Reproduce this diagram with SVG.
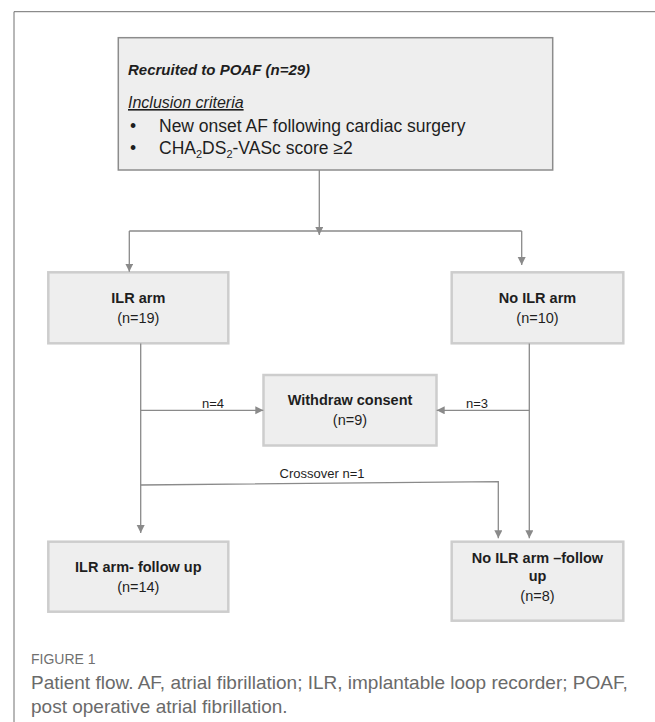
<svg xmlns="http://www.w3.org/2000/svg" width="655" height="722" viewBox="0 0 655 722">
<style>
  .frame { fill: none; stroke: #707070; stroke-width: 1; }
  .topbox { fill: #eeeeee; stroke: #8c8c8c; stroke-width: 1.5; }
  .box { fill: #eeeeee; stroke: #cdcdcd; stroke-width: 2.5; }
  .conn { fill: none; stroke: #8a8a8a; stroke-width: 1.3; }
  text { font-family: "Liberation Sans", Arial, sans-serif; fill: #1e1e1e; }
  .title { font-size: 15px; font-weight: bold; font-style: italic; }
  .incl { font-size: 16px; font-style: italic; text-decoration: underline; }
  .bul { font-size: 17.5px; }
  .lbl { font-size: 14.5px; font-weight: bold; text-anchor: middle; }
  .num { font-size: 14.5px; text-anchor: middle; }
  .edge { font-size: 13px; text-anchor: middle; }
  .figno { font-size: 14px; fill: #707070; }
  .cap { font-size: 19px; fill: #6a6a6a; }
</style>
<defs>
  <marker id="arr" markerUnits="userSpaceOnUse" markerWidth="9" markerHeight="9" refX="8" refY="4" orient="auto">
    <path d="M0,0 L8,4 L0,8 z" fill="#8a8a8a"/>
  </marker>
</defs>

<path class="frame" d="M14,722 V11.7 H655"/>

<g id="recruited">
  <rect class="topbox" x="118.3" y="37.7" width="434.4" height="132.3"/>
  <text class="title" x="128" y="75">Recruited to POAF (n=29)</text>
  <text class="incl" x="128" y="108">Inclusion criteria</text>
  <text class="bul" x="130" y="132">•</text>
  <text class="bul" x="159" y="132">New onset AF following cardiac surgery</text>
  <text class="bul" x="130" y="154">•</text>
  <text class="bul" x="159" y="154">CHA<tspan font-size="11" dy="4">2</tspan><tspan dy="-4">DS</tspan><tspan font-size="11" dy="4">2</tspan><tspan dy="-4">-VASc score ≥2</tspan></text>
</g>

<g id="ilr-arm">
  <rect class="box" x="48.3" y="272.3" width="180" height="71"/>
  <text class="lbl" x="138.3" y="303.3">ILR arm</text>
  <text class="num" x="138.3" y="323.3">(n=19)</text>
</g>

<g id="no-ilr-arm">
  <rect class="box" x="451.7" y="272.3" width="171.6" height="71"/>
  <text class="lbl" x="537.5" y="303.3">No ILR arm</text>
  <text class="num" x="537.5" y="323.3">(n=10)</text>
</g>

<g id="withdraw">
  <rect class="box" x="263.5" y="375" width="173" height="70.5"/>
  <text class="lbl" x="350" y="405">Withdraw consent</text>
  <text class="num" x="350" y="425">(n=9)</text>
</g>

<g id="ilr-followup">
  <rect class="box" x="48.3" y="541.7" width="180" height="70"/>
  <text class="lbl" x="138.3" y="571.7">ILR arm- follow up</text>
  <text class="num" x="138.3" y="591.7">(n=14)</text>
</g>

<g id="no-ilr-followup">
  <rect class="box" x="451.7" y="541.7" width="171.6" height="79"/>
  <text class="lbl" x="537.5" y="562.5">No ILR arm –follow</text>
  <text class="lbl" x="537.5" y="580.5">up</text>
  <text class="num" x="537.5" y="600.5">(n=8)</text>
</g>

<g id="connectors">
  <path class="conn" d="M319.3,170 V235" marker-end="url(#arr)"/>
  <path class="conn" d="M129.3,231 H521.7"/>
  <path class="conn" d="M129.3,231 V271.7" marker-end="url(#arr)"/>
  <path class="conn" d="M521.7,231 V265" marker-end="url(#arr)"/>
  <path class="conn" d="M140.7,343.5 V533" marker-end="url(#arr)"/>
  <path class="conn" d="M140.7,410.3 H263.3" marker-end="url(#arr)"/>
  <path class="conn" d="M529.3,343.5 V538.3" marker-end="url(#arr)"/>
  <path class="conn" d="M529.3,410.3 H436.7" marker-end="url(#arr)"/>
  <path class="conn" d="M140.7,485 L498.3,481.7 V538.3" marker-end="url(#arr)"/>
  <text class="edge" x="213" y="408">n=4</text>
  <text class="edge" x="477" y="408">n=3</text>
  <text class="edge" x="322" y="478.3">Crossover n=1</text>
</g>

<text class="figno" x="31" y="664">FIGURE 1</text>
<text class="cap" x="31" y="689">Patient flow. AF, atrial fibrillation; ILR, implantable loop recorder; POAF,</text>
<text class="cap" x="31" y="713">post operative atrial fibrillation.</text>
</svg>
